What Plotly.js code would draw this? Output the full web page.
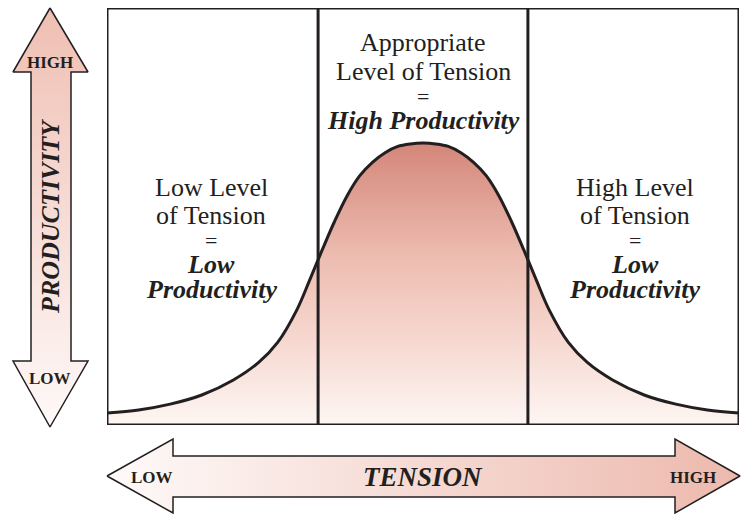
<!DOCTYPE html>
<html>
<head>
<meta charset="utf-8">
<script src="https://cdn.plot.ly/plotly-3.0.1.min.js"></script>
<style>html,body{margin:0;padding:0;background:#fff}#chart{width:747px;height:514px}</style>
</head>
<body>
<div id="chart"></div>
<script>
// Tension (0-100, left to right) vs productivity (0-100, bottom to top)
const tension = [0, 5, 10, 15, 20, 24, 27, 30, 32, 34, 36, 38, 40, 42, 44, 46, 48, 50,
                 52, 54, 56, 58, 60, 62, 64, 66, 68, 70, 73, 76, 80, 85, 90, 95, 100];
const productivity = [2.9, 3.6, 5.0, 7.2, 10.8, 15.0, 19.8, 27.5, 34.5, 41.8, 48.8, 55.0, 59.8, 63.0, 65.3, 66.8, 67.4, 67.6,
                      67.4, 66.8, 65.3, 63.0, 59.8, 55.0, 48.8, 41.8, 34.5, 27.5, 19.8, 15.0, 10.8, 7.2, 5.0, 3.6, 2.9];
const zoneBounds = [33.4, 66.6];
const zoneCenters = [16.5, 50, 83.5];
const zoneTexts = [
  ["Low Level", "of Tension", "=", "<b><i>Low</i></b>", "<b><i>Productivity</i></b>"],
  ["Appropriate", "Level of Tension", "=", "<b><i>High Productivity</i></b>"],
  ["High Level", "of Tension", "=", "<b><i>Low</i></b>", "<b><i>Productivity</i></b>"]
];
const axisTitleX = "TENSION", axisTitleY = "PRODUCTIVITY";
const lowLabel = "LOW", highLabel = "HIGH";

const INK = '#231f20';
const SERIF = 'Liberation Serif, Times New Roman, serif';

// Decorative arrows, drawn in a full-page pixel frame (x2/y2)
const vArrow = {x:[50,88,71,71,88,50,13,31,31,13,50], y:[8,72,72,361,361,427,361,361,72,72,8]};
const hArrow = {x:[107,173,173,675,675,740,675,675,173,173,107], y:[476,439,456,456,439,476,513,497,497,513,476]};

const traces = [
  {x:vArrow.x, y:vArrow.y, xaxis:'x2', yaxis:'y2', mode:'lines', fill:'toself',
   line:{color:INK, width:1.5},
   fillgradient:{type:'vertical', start:8, stop:427, colorscale:[[0,'#efbfb3'],[1,'#fef9f8']]},
   hoverinfo:'skip', showlegend:false},
  {x:hArrow.x, y:hArrow.y, xaxis:'x2', yaxis:'y2', mode:'lines', fill:'toself',
   line:{color:INK, width:1.5},
   fillgradient:{type:'horizontal', start:107, stop:740, colorscale:[[0,'#fefaf9'],[1,'#edb9ad']]},
   hoverinfo:'skip', showlegend:false},
  {x:tension, y:productivity, xaxis:'x', yaxis:'y', mode:'lines', fill:'tozeroy',
   line:{color:INK, width:3, shape:'spline', smoothing:1},
   fillgradient:{type:'vertical', start:0, stop:67.6,
     colorscale:[[0,'#fdf6f3'],[0.3,'#f6d8d0'],[0.6,'#edbcb0'],[1,'#d4867a']]},
   hoverinfo:'skip', showlegend:false}
];

const annotations = [];
const lineY = [
  [187, 215, 240, 264, 289],
  [42, 71, 96, 120],
  [187, 215, 240, 264, 289]
];
zoneTexts.forEach((lines, i) => {
  lines.forEach((t, j) => {
    const isEq = t === '=';
    annotations.push({xref:'x', yref:'y2', x:zoneCenters[i], y:lineY[i][j], text:t, showarrow:false,
      xanchor:'center', yanchor:'middle', font:{family:SERIF, size:isEq ? 22 : 26, color:INK}});
  });
});
annotations.push({xref:'x2', yref:'y2', x:50, y:62, text:'<b>'+highLabel+'</b>', showarrow:false,
  font:{family:SERIF, size:17, color:INK}});
annotations.push({xref:'x2', yref:'y2', x:50, y:378, text:'<b>'+lowLabel+'</b>', showarrow:false,
  font:{family:SERIF, size:17, color:INK}});
annotations.push({xref:'x2', yref:'y2', x:50, y:217, text:'<b><i>'+axisTitleY+'</i></b>', showarrow:false,
  textangle:-90, font:{family:SERIF, size:26, color:INK}});
annotations.push({xref:'x2', yref:'y2', x:152, y:477, text:'<b>'+lowLabel+'</b>', showarrow:false,
  font:{family:SERIF, size:17, color:INK}});
annotations.push({xref:'x2', yref:'y2', x:693, y:477, text:'<b>'+highLabel+'</b>', showarrow:false,
  font:{family:SERIF, size:17, color:INK}});
annotations.push({xref:'x2', yref:'y2', x:423, y:477, text:'<b><i>'+axisTitleX+'</i></b>', showarrow:false,
  font:{family:SERIF, size:27, color:INK}});

const shapes = [
  {type:'rect', xref:'x', yref:'y', x0:0, x1:100, y0:0, y1:100, line:{color:INK, width:3}, layer:'above'},
  ...zoneBounds.map(b => ({type:'line', xref:'x', yref:'y', x0:b, x1:b, y0:0, y1:100,
    line:{color:INK, width:3}, layer:'above'}))
];

const hidden = {showgrid:false, zeroline:false, showticklabels:false, ticks:'', showline:false, fixedrange:true};
const layout = {
  width:747, height:514,
  margin:{l:0, r:0, t:0, b:0, pad:0},
  paper_bgcolor:'#ffffff', plot_bgcolor:'rgba(0,0,0,0)',
  showlegend:false,
  xaxis:Object.assign({domain:[107/747, 739/747], range:[0,100]}, hidden),
  yaxis:Object.assign({domain:[89/514, 506/514], range:[0,100]}, hidden),
  xaxis2:Object.assign({domain:[0,1], range:[0,747], anchor:'y2'}, hidden),
  yaxis2:Object.assign({domain:[0,1], range:[514,0], anchor:'x2'}, hidden),
  annotations:annotations,
  shapes:shapes
};
Plotly.newPlot('chart', traces, layout, {staticPlot:true, displayModeBar:false});
</script>
</body>
</html>
